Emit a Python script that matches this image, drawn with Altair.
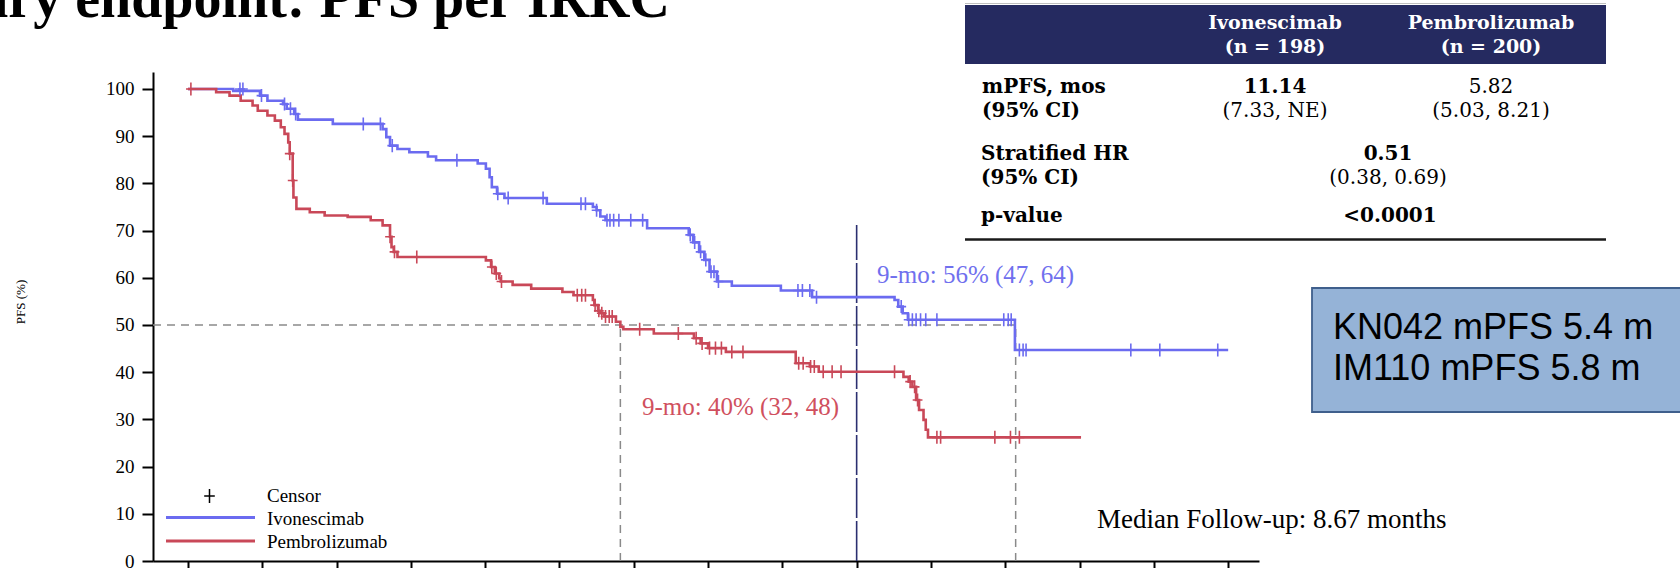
import altair as alt
import pandas as pd

# ---------------- data ----------------
ivo_time = [0, 0.61, 0.97, 1.07, 1.28, 1.33, 1.43, 1.48, 1.95, 2.62, 2.67, 2.72, 2.82, 2.98,
            3.23, 3.34, 3.90, 4.01, 4.06, 4.09, 4.16, 4.26, 4.83, 5.45, 5.50, 5.55, 5.62,
            6.18, 6.74, 6.80, 6.88, 6.95, 7.02, 7.12, 7.32, 7.98, 8.40, 9.51, 9.56, 9.62,
            9.69, 11.13, 14.00]
ivo_surv = [100, 99.6, 98.6, 97.5, 96.8, 95.8, 94.7, 93.5, 92.6, 91.5, 89.8, 88.0, 87.3, 86.6,
            85.7, 84.9, 84.2, 83.1, 81.3, 79.2, 77.8, 76.9, 75.7, 75.0, 74.3, 73.0, 72.2,
            70.5, 69.1, 67.5, 65.5, 63.8, 61.3, 59.2, 58.3, 57.3, 55.9, 55.3, 53.9, 52.5,
            51.1, 44.7, 44.7]
ivo_cens_time = [0.70, 0.74, 0.99, 1.30, 1.38, 1.45, 2.36, 2.59, 2.75, 3.62, 4.17, 4.31, 4.78,
                 5.29, 5.35, 5.50, 5.64, 5.68, 5.73, 5.80, 5.96, 6.12, 6.76, 6.82, 6.90, 6.97,
                 7.04, 7.08, 7.14, 8.21, 8.27, 8.37, 8.46, 9.60, 9.70, 9.75, 9.80, 9.86, 9.93,
                 10.08, 10.98, 11.04, 11.08, 11.19, 11.24, 11.28, 12.69, 13.08, 13.86]
ivo_cens_surv = [100, 100, 98.6, 96.8, 95.8, 94.7, 92.6, 92.6, 88.0, 84.9, 77.8, 76.9, 76.9,
                 75.7, 75.7, 74.3, 72.2, 72.2, 72.2, 72.2, 72.2, 72.2, 69.1, 67.5, 65.5, 63.8,
                 61.3, 61.3, 59.2, 57.3, 57.3, 57.3, 55.9, 53.9, 51.1, 51.1, 51.1, 51.1, 51.1,
                 51.1, 51.1, 51.1, 51.1, 44.7, 44.7, 44.7, 44.7, 44.7, 44.7]

pem_time = [0, 0.38, 0.56, 0.71, 0.87, 0.94, 1.07, 1.17, 1.25, 1.30, 1.35, 1.37, 1.41, 1.42,
            1.46, 1.64, 1.84, 2.15, 2.46, 2.62, 2.72, 2.74, 2.77, 2.82, 4.01, 4.08, 4.13, 4.19,
            4.21, 4.37, 4.62, 5.04, 5.19, 5.45, 5.47, 5.52, 5.55, 5.60, 5.76, 5.82, 5.86, 6.27,
            6.81, 6.90, 7.00, 7.24, 8.18, 8.37, 8.49, 9.63, 9.70, 9.75, 9.80, 9.84, 9.90, 9.93,
            9.96, 12.02]
pem_surv = [100, 99.3, 98.6, 97.5, 96.5, 95.4, 94.4, 93.3, 91.9, 90.5, 88.7, 86.3, 80.6, 77.0,
            74.6, 73.9, 73.2, 72.9, 72.2, 71.1, 68.7, 66.5, 65.5, 64.4, 63.7, 62.3, 60.9, 59.9,
            59.2, 58.5, 57.7, 57.0, 56.3, 55.3, 54.2, 53.0, 52.5, 51.8, 50.7, 49.6, 49.1, 48.2,
            47.2, 46.1, 45.1, 44.3, 41.9, 41.2, 40.1, 39.0, 38.0, 36.9, 34.1, 32.0, 29.9, 27.8,
            26.2, 26.2]
pem_cens_time = [0.04, 1.37, 1.41, 2.72, 2.78, 3.08, 4.09, 4.15, 4.22, 5.24, 5.30, 5.35, 5.48,
                 5.53, 5.57, 5.62, 5.67, 5.71, 6.08, 6.60, 6.84, 6.92, 7.02, 7.10, 7.18, 7.32,
                 7.47, 8.22, 8.28, 8.38, 8.43, 8.55, 8.67, 8.79, 9.51, 9.72, 9.78, 9.82, 10.08,
                 10.13, 10.86, 11.07, 11.19]
pem_cens_surv = [100, 86.3, 80.6, 68.7, 65.5, 64.4, 62.3, 60.9, 59.2, 56.3, 56.3, 56.3, 54.2,
                 53.0, 52.5, 51.8, 51.8, 51.8, 49.1, 48.2, 47.2, 46.1, 45.1, 45.1, 45.1, 44.3,
                 44.3, 41.9, 41.9, 41.2, 41.2, 40.1, 40.1, 40.1, 40.1, 38.0, 36.9, 34.1, 26.2,
                 26.2, 26.2, 26.2, 26.2]

arms = ["Ivonescimab", "Pembrolizumab"]
arm_n = ["(n = 198)", "(n = 200)"]
mpfs = ["11.14", "5.82"]
mpfs_ci = ["(7.33, NE)", "(5.03, 8.21)"]
median_months = [5.82, 11.14]
hr_text = ["0.51", "(0.38, 0.69)"]
p_text = "<0.0001"
row_labels = ["mPFS, mos", " (95% CI)", "Stratified HR", "(95% CI)", "p-value"]
landmark_month = 9
landmark_text = ["9-mo: 56% (47, 64)", "9-mo: 40% (32, 48)"]
followup_text = "Median Follow-up: 8.67 months"
box_lines = ["KN042 mPFS 5.4 m", "IM110 mPFS 5.8 m"]
title_text = "Primary endpoint: PFS per IRRC"
legend_labels = ["Censor", "Ivonescimab", "Pembrolizumab"]
y_title = "PFS (%)"
x_ticks = list(range(0, 15))
y_ticks = list(range(0, 101, 10))

# ---------------- styling / layout ----------------
W, H = 1680, 568
PL, PT, PR, PB = 153, 72, 1259, 561
SERIF = "Liberation Serif"
TSERIF = "DejaVu Serif"
BLUE = "#6B6BF0"
RED = "#C94858"
NAVY = "#252A60"


def px(v):
    return v - PL


def py(v):
    return v - PT


one = pd.DataFrame({"k": [0]})

curves = pd.concat([
    pd.DataFrame({"time": ivo_time, "surv": ivo_surv, "arm": arms[0]}),
    pd.DataFrame({"time": pem_time, "surv": pem_surv, "arm": arms[1]}),
])
cens = pd.concat([
    pd.DataFrame({"time": ivo_cens_time, "surv": ivo_cens_surv, "arm": arms[0]}),
    pd.DataFrame({"time": pem_cens_time, "surv": pem_cens_surv, "arm": arms[1]}),
])

xs = alt.Scale(domain=[-0.47, 14.415], nice=False, zero=False)
ys = alt.Scale(domain=[0, 103.6], nice=False, zero=False)
cs = alt.Scale(domain=arms, range=[BLUE, RED])

# x tick labels fall below the cropped picture, as in the reference
x_axis = alt.Axis(values=x_ticks, title=None, grid=False, domainColor="black", domainWidth=2,
                  tickColor="black", tickWidth=2, tickSize=12, labels=False)
y_axis = alt.Axis(values=y_ticks, title=None, grid=False, domainColor="black", domainWidth=2,
                  tickColor="black", tickWidth=2, tickSize=11, labelFont=SERIF,
                  labelFontSize=19, labelColor="black", labelPadding=8)


def X(field):
    return alt.X(field, scale=xs, axis=x_axis, title=None)


def Y(field):
    return alt.Y(field, scale=ys, axis=y_axis, title=None)


PLUS = "M-0.75,0L0.75,0M0,-1L0,1"

# reference lines
hline = alt.Chart(pd.DataFrame({"x": [-0.47], "x2": [max(median_months)], "y": [50]})).mark_rule(
    color="#8a8a8a", strokeWidth=1.5, strokeDash=[8, 6]).encode(
    x=X("x:Q"), x2="x2:Q", y=Y("y:Q"))
vlines = alt.Chart(pd.DataFrame({"x": median_months, "y": [0, 0], "y2": [50, 50]})).mark_rule(
    color="#8a8a8a", strokeWidth=1.5, strokeDash=[8, 6]).encode(
    x=X("x:Q"), y=Y("y:Q"), y2="y2:Q")
nine = alt.Chart(pd.DataFrame({"x": [landmark_month], "y": [0], "y2": [71.2]})).mark_rule(
    color="#2B2F70", strokeWidth=1.6, strokeDash=[40, 3]).encode(
    x=X("x:Q"), y=Y("y:Q"), y2="y2:Q")

lines = alt.Chart(curves).mark_line(interpolate="step-after", strokeWidth=2.6).encode(
    x=X("time:Q"),
    y=Y("surv:Q"),
    color=alt.Color("arm:N", scale=cs, legend=None),
    detail="arm:N",
)
censor = alt.Chart(cens).mark_point(shape=PLUS, filled=False, size=170, strokeWidth=1.6,
                                     opacity=1).encode(
    x=X("time:Q"),
    y=Y("surv:Q"),
    color=alt.Color("arm:N", scale=cs, legend=None),
)


def txt(s, x, y, size, font=SERIF, weight="normal", color="black", align="left",
        baseline="alphabetic", angle=0):
    return alt.Chart(one).mark_text(text=s, font=font, fontSize=size, fontWeight=weight,
                                    color=color, align=align, baseline=baseline,
                                    angle=angle).encode(x=alt.value(px(x)), y=alt.value(py(y)))


def rect(x1, x2, y1, y2, fill, stroke=None, sw=0):
    kw = dict(fill=fill)
    if stroke:
        kw.update(stroke=stroke, strokeWidth=sw)
    return alt.Chart(one).mark_rect(**kw).encode(
        x=alt.value(px(x1)), x2=alt.value(px(x2)), y=alt.value(py(y1)), y2=alt.value(py(y2)))


def hrule(x1, x2, y, color, sw):
    return alt.Chart(one).mark_rule(color=color, strokeWidth=sw).encode(
        x=alt.value(px(x1)), x2=alt.value(px(x2)), y=alt.value(py(y)))


layers = [hline, vlines, nine, lines, censor]

# title (cut off at left edge as in the reference)
layers.append(txt(title_text, 670, 17, 56, weight="bold", align="right"))

# y axis title
layers.append(txt(y_title, 21, 302, 13, angle=270, align="center", baseline="middle"))

# annotations
layers.append(txt(landmark_text[0], 877, 275, 25, color="#7070EE", baseline="middle"))
layers.append(txt(landmark_text[1], 642, 407, 25, color="#D0505E", baseline="middle"))
layers.append(txt(followup_text, 1097, 520, 27, baseline="middle"))

# legend
layers.append(alt.Chart(one).mark_point(shape=PLUS, filled=False, size=200, strokeWidth=1.5,
                                         color="black", opacity=1).encode(
    x=alt.value(px(209.5)), y=alt.value(py(496))))
layers.append(hrule(166, 255, 517.5, BLUE, 3))
layers.append(hrule(166, 255, 541, RED, 3))
for lab, yy in zip(legend_labels, [496, 518.5, 541.5]):
    layers.append(txt(lab, 267, yy, 19, baseline="middle"))

# table
layers.append(hrule(965, 1606, 3.5, "#c0c0c0", 1))
layers.append(rect(965, 1606, 5, 64, NAVY))
col_x = [1275, 1491]
for i in range(2):
    layers.append(txt(arms[i], col_x[i], 28.5, 19, font=TSERIF, weight="bold", color="white",
                      align="center"))
    layers.append(txt(arm_n[i], col_x[i], 53, 19, font=TSERIF, weight="bold", color="white",
                      align="center"))
    layers.append(txt(mpfs[i], col_x[i], 92.5, 20, font=TSERIF,
                      weight="bold" if i == 0 else "normal", align="center"))
    layers.append(txt(mpfs_ci[i], col_x[i], 116.5, 20, font=TSERIF, align="center"))
row_x = [982, 982, 981, 981, 981]
row_y = [92.5, 116.5, 160, 183.5, 222]
for lab, xx, yy in zip(row_labels, row_x, row_y):
    layers.append(txt(lab, xx, yy, 20, font=TSERIF, weight="bold"))
layers.append(txt(hr_text[0], 1388, 160, 20, font=TSERIF, weight="bold", align="center"))
layers.append(txt(hr_text[1], 1388, 183.5, 20, font=TSERIF, align="center"))
layers.append(txt(p_text, 1390, 222, 20, font=TSERIF, weight="bold", align="center"))
layers.append(hrule(965, 1606, 239.5, "#1a1a1a", 2.5))

# blue comparison box
layers.append(rect(1312, 1690, 288, 412, "#95B3D7", "#3F5F8C", 1.8))
layers.append(txt(box_lines[0], 1333, 339, 36, font="Liberation Sans"))
layers.append(txt(box_lines[1], 1333, 380, 36, font="Liberation Sans"))

chart = alt.layer(*layers).properties(
    width=PR - PL,
    height=PB - PT,
    autosize=alt.AutoSizeParams(type="none"),
    padding={"left": PL, "top": PT, "right": W - PR, "bottom": H - PB},
    background="white",
).configure_view(stroke=None)

chart.save("out.html", embed_options={"renderer": "svg", "actions": False})
